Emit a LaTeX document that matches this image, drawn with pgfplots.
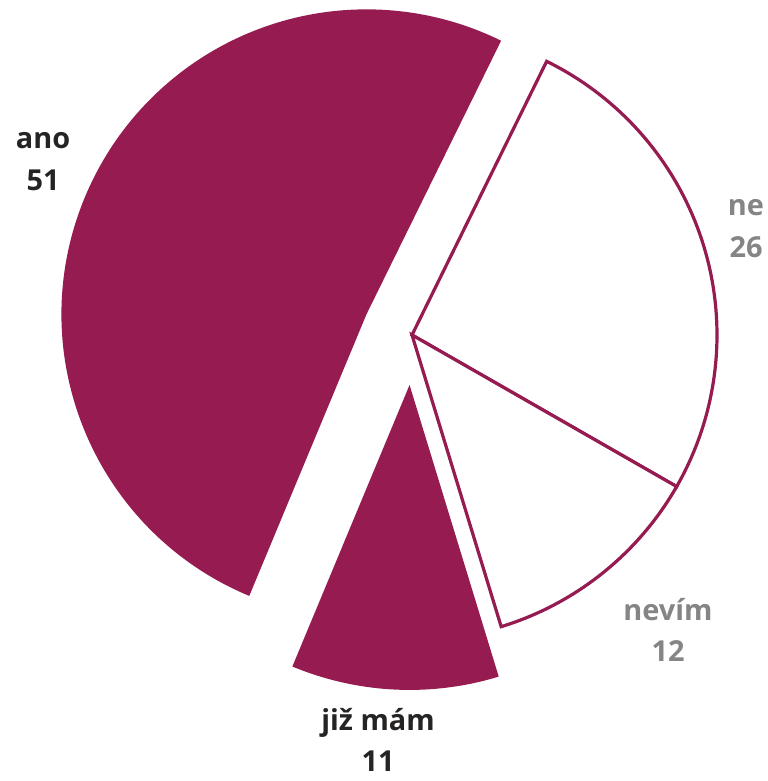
\documentclass[border=0pt]{standalone}
\usepackage{pgfplots}
\pgfplotsset{compat=1.18}
\usepackage{fontspec}
\setmainfont{Open Sans}

\definecolor{wine}{HTML}{951B51}
\definecolor{darktext}{HTML}{252423}
\definecolor{greytext}{HTML}{858585}

% pie slice: share (%), explode (bp), style; runs clockwise from \curangle
\newcommand{\pieslice}[3]{%
  \pgfmathsetmacro\aA{\curangle}%
  \pgfmathsetmacro\aB{\curangle-3.6*#1}%
  \pgfmathsetmacro\aM{(\aA+\aB)/2}%
  \pgfmathsetmacro\cx{412+#2*cos(\aM)}%
  \pgfmathsetmacro\cy{446+#2*sin(\aM)}%
  \edef\tmp{\noexpand\draw[#3] (axis cs:\cx,\cy) -- ++(\aA:305bp)
    arc[start angle=\aA, end angle=\aB, radius=305bp] -- cycle;}%
  \tmp
  \global\let\curangle\aB
}

\begin{document}
\begin{tikzpicture}
\begin{axis}[
    width=767bp, height=781bp, scale only axis,
    xmin=0, xmax=767, ymin=0, ymax=781,
    hide axis, clip=false,
]
  \def\curangle{63.8}
  % ne 26, nevim 12, jiz mam 11, ano 51
  \pieslice{26}{0}{fill=white, draw=wine, line width=3.2bp, line join=miter}
  \pieslice{12}{0}{fill=white, draw=wine, line width=3.2bp, line join=miter}
  \pieslice{11}{50}{fill=wine, draw=none}
  \pieslice{51}{50}{fill=wine, draw=none}

  \path (axis cs:0,0) (axis cs:767,781);

  \tikzset{lbl/.style={font=\fontsize{29}{42}\selectfont\bfseries, align=center}}
  \node[lbl, text=darktext] at (axis cs:43,619) {ano\\51};
  \node[lbl, text=greytext] at (axis cs:746,552) {ne\\26};
  \node[lbl, text=greytext] at (axis cs:668,151) {nevím\\12};
  \node[lbl, text=darktext] at (axis cs:378,41) {již mám\\11};
\end{axis}
\end{tikzpicture}
\end{document}
